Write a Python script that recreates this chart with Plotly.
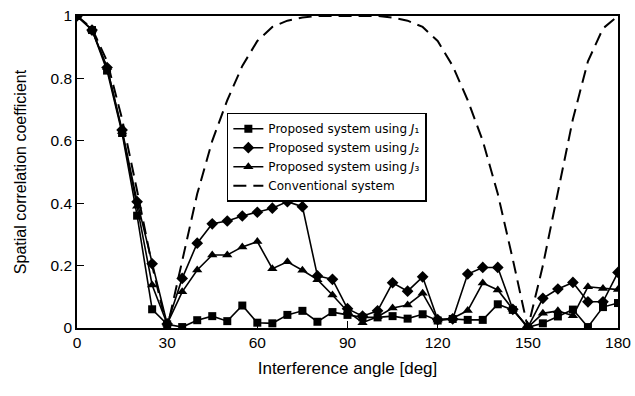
import plotly.graph_objects as go

angles = list(range(0, 181, 5))

j1 = [1.0, 0.955, 0.825, 0.625, 0.36, 0.06, 0.012,
      0.003, 0.025, 0.038, 0.022, 0.072, 0.017,
      0.015, 0.042, 0.055, 0.02, 0.051, 0.042,
      0.034, 0.034, 0.038, 0.03, 0.044, 0.024,
      0.029, 0.026, 0.026, 0.076, 0.058, 0.002,
      0.015, 0.037, 0.059, 0.003, 0.067, 0.08]

j2 = [1.0, 0.955, 0.835, 0.635, 0.405, 0.206, 0.013,
      0.159, 0.272, 0.334, 0.343, 0.359, 0.371,
      0.384, 0.405, 0.389, 0.167, 0.156, 0.062,
      0.038, 0.055, 0.145, 0.118, 0.164, 0.027,
      0.029, 0.173, 0.194, 0.194, 0.06, 0.002,
      0.095, 0.125, 0.146, 0.084, 0.084, 0.178]

j3 = [1.0, 0.955, 0.835, 0.63, 0.39, 0.138, 0.013,
      0.116, 0.186, 0.234, 0.234, 0.26, 0.277,
      0.19, 0.212, 0.185, 0.155, 0.106, 0.053,
      0.017, 0.036, 0.064, 0.074, 0.111, 0.026,
      0.031, 0.056, 0.144, 0.122, 0.06, 0.002,
      0.047, 0.055, 0.039, 0.132, 0.127, 0.123]

conventional = [1.0, 0.96, 0.855, 0.67, 0.44, 0.2, 0.0,
                0.22, 0.43, 0.6, 0.73, 0.84, 0.92,
                0.965, 0.985, 0.995, 1.0, 1.0, 1.0,
                1.0, 1.0, 0.995, 0.985, 0.965, 0.92,
                0.84, 0.73, 0.6, 0.43, 0.22, 0.0,
                0.2, 0.44, 0.67, 0.855, 0.96, 1.0]

names = ["Proposed system using <i>J</i>\u2081",
         "Proposed system using <i>J</i>\u2082",
         "Proposed system using <i>J</i>\u2083",
         "Conventional system"]

x_ticks = [0, 30, 60, 90, 120, 150, 180]
y_ticks = [0, 0.2, 0.4, 0.6, 0.8, 1.0]
y_tick_text = ["0", "0.2", "0.4", "0.6", "0.8", "1"]

fig = go.Figure()
for ys, name, sym, sz in [(j1, names[0], "square", 8), (j2, names[1], "diamond", 9),
                          (j3, names[2], "triangle-up", 9)]:
    fig.add_trace(go.Scatter(
        x=angles, y=ys, name=name, mode="lines+markers",
        line=dict(color="black", width=1.6),
        marker=dict(symbol=sym, size=sz, color="black"),
    ))
fig.add_trace(go.Scatter(
    x=angles, y=conventional, name=names[3], mode="lines",
    line=dict(color="black", width=2, dash="13px,7px"),
))

font_main = "Liberation Sans, Arial, sans-serif"
fig.update_layout(
    width=635, height=396,
    margin=dict(l=77, r=17, t=16, b=68, autoexpand=False),
    paper_bgcolor="white", plot_bgcolor="white",
    font=dict(family=font_main, color="black", size=15),
    showlegend=True,
    legend=dict(
        x=0.277, y=0.69, xanchor="left", yanchor="top",
        bgcolor="white", bordercolor="black", borderwidth=1.5,
        font=dict(size=12, family="DejaVu Sans, sans-serif"),
        tracegroupgap=0, itemwidth=30,
    ),
    xaxis=dict(
        range=[0, 180], tickvals=x_ticks, ticks="inside", ticklen=7,
        tickcolor="black", showline=True, linecolor="black", linewidth=1.5,
        mirror=True, showgrid=False, zeroline=False, automargin=False,
        title=dict(text="Interference angle [deg]", font=dict(size=17), standoff=12),
        tickfont=dict(size=15.5),
    ),
    yaxis=dict(
        range=[0, 1], tickvals=y_ticks, ticktext=y_tick_text, ticks="inside", ticklen=7,
        tickcolor="black", showline=True, linecolor="black", linewidth=1.5,
        mirror=True, showgrid=False, zeroline=False, automargin=False,
        title=dict(text="Spatial correlation coefficient", font=dict(size=16), standoff=20),
        tickfont=dict(size=15.5),
    ),
)

fig.write_html("out.html")
